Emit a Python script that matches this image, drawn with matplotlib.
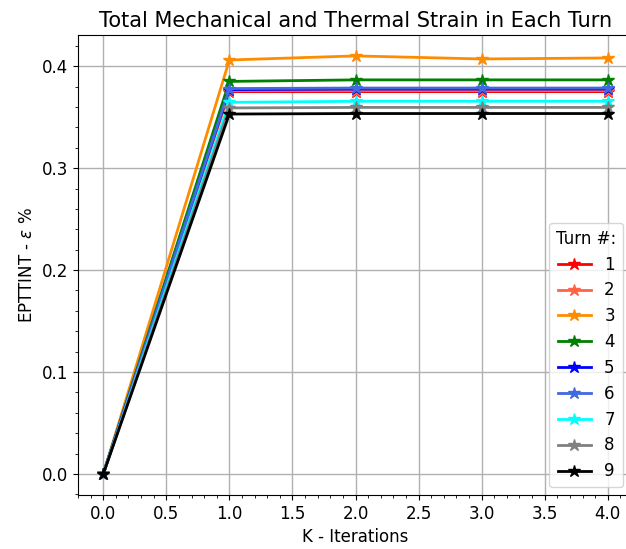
import matplotlib
matplotlib.use("Agg")
import matplotlib.pyplot as plt
from matplotlib.ticker import AutoMinorLocator

iterations = [0, 1, 2, 3, 4]
turn_labels = ["1", "2", "3", "4", "5", "6", "7", "8", "9"]
turn_colors = ["red", "tomato", "darkorange", "green", "blue", "royalblue", "cyan", "gray", "black"]

turn1 = [0.0, 0.375, 0.375, 0.375, 0.375]
turn2 = [0.0, 0.376, 0.376, 0.376, 0.376]
turn3 = [0.0, 0.406, 0.410, 0.407, 0.408]
turn4 = [0.0, 0.385, 0.3865, 0.3865, 0.3865]
turn5 = [0.0, 0.377, 0.3775, 0.3775, 0.3775]
turn6 = [0.0, 0.378, 0.3785, 0.3785, 0.3785]
turn7 = [0.0, 0.3645, 0.3655, 0.3655, 0.3655]
turn8 = [0.0, 0.359, 0.3595, 0.3595, 0.3595]
turn9 = [0.0, 0.353, 0.3535, 0.3535, 0.3535]
turns = [turn1, turn2, turn3, turn4, turn5, turn6, turn7, turn8, turn9]

fig = plt.figure(figsize=(6.26, 5.49), dpi=100)
ax = fig.add_axes([78/626, 54/549, 555/626, 460/549])

for vals, lab, col in zip(turns, turn_labels, turn_colors):
    ax.plot(iterations, vals, color=col, marker="*", markersize=9, linewidth=2, label=lab)

ax.set_xlim(-0.2, 4.2)
ax.set_ylim(-0.0205, 0.4305)
ax.set_xticks([0, 0.5, 1, 1.5, 2, 2.5, 3, 3.5, 4])
ax.set_yticks([0.0, 0.1, 0.2, 0.3, 0.4])
ax.xaxis.set_minor_locator(AutoMinorLocator(5))
ax.yaxis.set_minor_locator(AutoMinorLocator(5))
ax.spines["right"].set_visible(False)
ax.grid(True, which="major", color="#b0b0b0", linewidth=1)
ax.tick_params(labelsize=12)
ax.set_xlabel("K - Iterations", fontsize=12)
ax.set_ylabel(r"EPTTINT - $\varepsilon$ %", fontsize=12)
ax.set_title("Total Mechanical and Thermal Strain in Each Turn", fontsize=15)
ax.legend(title="Turn #:", fontsize=12, title_fontsize=12, loc="lower right",
          labelspacing=0.47,
          bbox_to_anchor=(623/626, 62/549), bbox_transform=fig.transFigure, borderaxespad=0)

fig.savefig("out.png", dpi=100)
